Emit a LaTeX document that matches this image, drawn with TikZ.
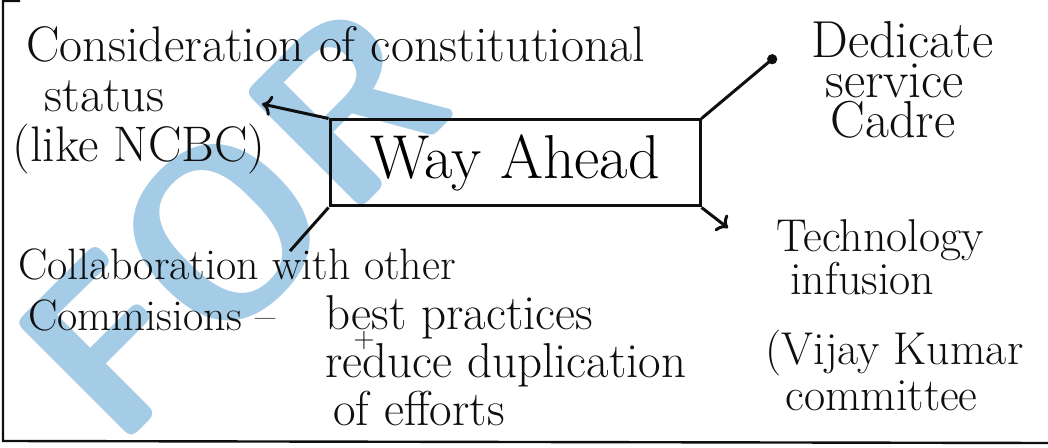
\documentclass[tikz,border=0pt]{standalone}
\usepackage{xcolor}
\usetikzlibrary{shapes, arrows, arrows.meta, positioning}

\begin{document}
\begin{tikzpicture}[x=0.5pt, y=-0.5pt]

	\definecolor{my_blue_light}{RGB}{164,204,231}
\definecolor{my_ink}{RGB}{15,15,15}

\tikzstyle{block} = [rectangle, draw=my_ink, line width=1.5pt, minimum width=185pt, minimum height=43pt, inner sep=0pt, font=\fontsize{31}{33}\selectfont]
\tikzstyle{note} = [anchor=base west, align=left, inner sep=0pt, text=my_ink, font=\fontsize{25}{25}\selectfont]
\tikzstyle{line} = [draw=my_ink, line width=1.5pt]
\tikzstyle{frame} = [draw=my_ink, line width=1.2pt]

	\clip (0,0) rectangle (1048,448);

	% watermark
	\node [rotate=45, text=my_blue_light, font=\fontsize{118}{118}\sffamily\bfseries] (mark) at (232,222) {FOR};

	\node [block] (way) at (515,163) {Way Ahead};

	% base = last line
	\node [note] (consid) at (12,162) {\hspace*{7pt}Consideration of constitutional\\ \hspace*{16pt}status\\ (like NCBC)};

	\node [note, font=\fontsize{26}{20}\selectfont] (cadre) at (811,138) {Dedicate\\ \hspace*{7pt}service\\ \hspace*{9.5pt}Cadre};

	\node [note, font=\fontsize{23}{20}\selectfont] (tech) at (765,410) {\hspace*{5.5pt}Technology\\ \hspace*{12.5pt}infusion\\[15pt] (Vijay Kumar\\[1pt] \hspace*{10pt}committee};

	\node [note, font=\fontsize{22}{25}\selectfont] (collab) at (18,330) {Collaboration with other\\ \hspace*{5pt}Commisions --};

	\node [note, font=\fontsize{24.5}{24}\selectfont] (practices) at (325,425) {best practices\\ reduce duplication\\ \hspace*{4pt}of efforts};

	\node [note, anchor=center, font=\fontsize{14}{14}\selectfont] (plus) at (364,341) {+};

	\coordinate (c1) at (262,104);
	\coordinate (c2) at (776,56);
	\coordinate (c3) at (728,228);
	\coordinate (c4) at (290,251);

	\path [line, ->] (way.north west) -- (c1);
	\path [line, -{Circle[length=5pt]}] (way.north east) -- (c2);
	\path [line, ->] (way.south east) -- (c3);
	\path [line] (way.south west) -- (c4);

	\draw [frame] (20,1) -- (3,1) -- (3,441) -- (1048,443);

\end{tikzpicture}
\end{document}
